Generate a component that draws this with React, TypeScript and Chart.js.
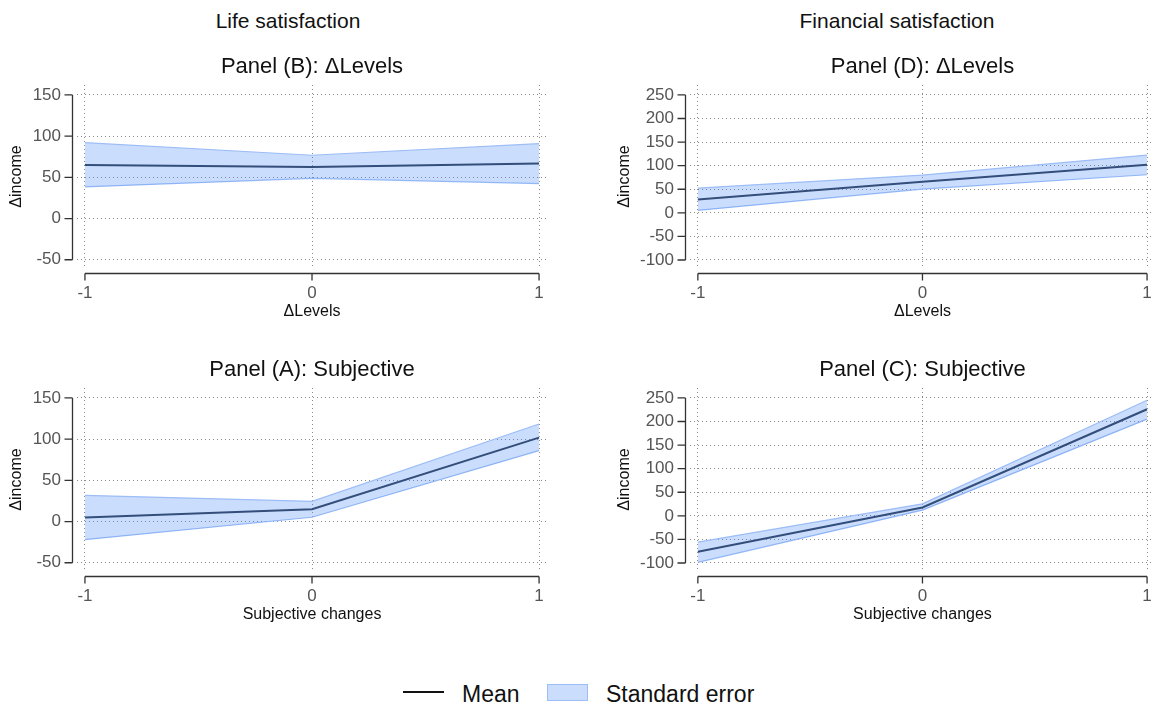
import React, { useEffect, useRef } from 'react';
import { Chart, registerables } from 'chart.js';

Chart.register(...registerables);

// ---------- data ----------
const xValues = [-1, 0, 1];
const xTicks = [-1, 0, 1];
const lifeTicks = [-50, 0, 50, 100, 150];
const finTicks = [-100, -50, 0, 50, 100, 150, 200, 250];

// Panel (B): Life satisfaction, ΔLevels
const lifeLevelsMean = [64.8, 62.4, 66.8];
const lifeLevelsUpper = [92, 76.8, 90.8];
const lifeLevelsLower = [38.4, 48.8, 42.4];

// Panel (A): Life satisfaction, Subjective
const lifeSubjMean = [4.8, 14.9, 101.8];
const lifeSubjUpper = [31.8, 24.5, 118.3];
const lifeSubjLower = [-22, 5.2, 86];

// Panel (D): Financial satisfaction, ΔLevels
const finLevelsMean = [28.3, 65.9, 102];
const finLevelsUpper = [52.4, 80, 122.5];
const finLevelsLower = [5, 50.3, 80.7];

// Panel (C): Financial satisfaction, Subjective
const finSubjMean = [-76, 17.6, 226];
const finSubjUpper = [-55.6, 25.4, 245];
const finSubjLower = [-98.6, 12, 205];

// ---------- style ----------
const FONT = '"Liberation Sans", Arial, Helvetica, sans-serif';
const MEAN_COLOR = '#2f394b';
const BAND_FILL = 'rgba(66,133,244,0.28)';
const BAND_BORDER = '#9dbdf7';
const GRID_COLOR = '#8a8a8a';
const AXIS_COLOR = '#333333';

const stataAxes = {
  id: 'stataAxes',
  afterDraw(chart: any) {
    const { ctx, chartArea, scales } = chart;
    const xs = scales.x;
    const ys = scales.y;
    ctx.save();
    ctx.strokeStyle = AXIS_COLOR;
    ctx.lineWidth = 1.3;
    ctx.setLineDash([]);
    const yt = ys.ticks.map((t: any) => ys.getPixelForValue(t.value));
    const ax = Math.round(chartArea.left - 5) + 0.5;
    ctx.beginPath();
    ctx.moveTo(ax, Math.min(...yt));
    ctx.lineTo(ax, Math.max(...yt));
    yt.forEach((p: number) => {
      ctx.moveTo(ax, p);
      ctx.lineTo(ax - 8, p);
    });
    const xt = xs.ticks.map((t: any) => xs.getPixelForValue(t.value));
    const ay = Math.round(chartArea.bottom + 5) + 0.5;
    ctx.moveTo(Math.min(...xt), ay);
    ctx.lineTo(Math.max(...xt), ay);
    xt.forEach((p: number) => {
      ctx.moveTo(p, ay);
      ctx.lineTo(p, ay + 7);
    });
    ctx.stroke();
    ctx.restore();
  },
};

type PanelProps = {
  title: string;
  xTitle: string;
  mean: number[];
  upper: number[];
  lower: number[];
  yTicks: number[];
  yMin: number;
  yMax: number;
  left: number;
  top: number;
  width: number;
  height: number;
  yAxisWidth: number;
  yTitlePad: number;
  padRight: number;
};

function Panel(p: PanelProps) {
  const ref = useRef<HTMLCanvasElement | null>(null);
  useEffect(() => {
    if (!ref.current) return;
    const pts = (arr: number[]) => xValues.map((x, i) => ({ x, y: arr[i] }));
    const chart = new Chart(ref.current, {
      type: 'line',
      data: {
        datasets: [
          {
            label: 'upper',
            data: pts(p.upper),
            borderColor: BAND_BORDER,
            borderWidth: 1.2,
            backgroundColor: BAND_FILL,
            fill: '+1',
            pointRadius: 0,
            tension: 0,
          },
          {
            label: 'lower',
            data: pts(p.lower),
            borderColor: BAND_BORDER,
            borderWidth: 1.2,
            fill: false,
            pointRadius: 0,
            tension: 0,
          },
          {
            label: 'Mean',
            data: pts(p.mean),
            borderColor: MEAN_COLOR,
            borderWidth: 2,
            fill: false,
            pointRadius: 0,
            tension: 0,
          },
        ],
      },
      options: {
        animation: false,
        responsive: false,
        maintainAspectRatio: false,
        layout: { padding: { left: 0, right: p.padRight, top: 0, bottom: 0 } },
        plugins: {
          legend: { display: false },
          tooltip: { enabled: false },
          title: {
            display: true,
            text: p.title,
            fullSize: false,
            color: '#111111',
            font: { family: FONT, size: 22, weight: 'normal' },
            padding: { top: 3.5, bottom: 5.1 },
          },
        },
        scales: {
          x: {
            type: 'linear',
            min: -1.035,
            max: 1.035,
            afterBuildTicks: (s: any) => {
              s.ticks = xTicks.map((v) => ({ value: v }));
            },
            afterFit: (s: any) => {
              s.height = 60;
            },
            grid: { drawTicks: false, color: GRID_COLOR, lineWidth: 1 },
            border: { display: false, dash: [1, 3] },
            ticks: {
              padding: 15,
              color: '#555555',
              font: { family: FONT, size: 17 },
              callback: (v: any) => String(v),
            },
            title: {
              display: true,
              text: p.xTitle,
              color: '#111111',
              font: { family: FONT, size: 16 },
              padding: { top: 0, bottom: 7 },
            },
          },
          y: {
            type: 'linear',
            min: p.yMin,
            max: p.yMax,
            afterBuildTicks: (s: any) => {
              s.ticks = p.yTicks.map((v) => ({ value: v }));
            },
            afterFit: (s: any) => {
              s.width = p.yAxisWidth;
            },
            grid: { drawTicks: false, color: GRID_COLOR, lineWidth: 1 },
            border: { display: false, dash: [1, 3] },
            ticks: {
              padding: 16,
              color: '#555555',
              font: { family: FONT, size: 17 },
              callback: (v: any) => String(v),
            },
            title: {
              display: true,
              text: 'Δincome',
              color: '#111111',
              font: { family: FONT, size: 16 },
              padding: { top: p.yTitlePad, bottom: 0 },
            },
          },
        },
      } as any,
      plugins: [stataAxes],
    });
    return () => chart.destroy();
  }, []);
  return (
    <canvas
      ref={ref}
      width={p.width}
      height={p.height}
      style={{ position: 'absolute', left: p.left, top: p.top, width: p.width, height: p.height }}
    />
  );
}

const textStyle = (size: number): React.CSSProperties => ({
  position: 'absolute',
  fontFamily: FONT,
  fontSize: size,
  lineHeight: '26px',
  color: '#111111',
  whiteSpace: 'nowrap',
});

export default function App() {
  const rowShift = 303;
  return (
    <div
      style={{
        position: 'fixed',
        left: 0,
        top: 0,
        width: 1154,
        height: 708,
        overflow: 'hidden',
        background: '#ffffff',
      }}
    >
      <div style={{ ...textStyle(21), left: 88, width: 400, textAlign: 'center', top: 8 }}>Life satisfaction</div>
      <div style={{ ...textStyle(21), left: 697, width: 400, textAlign: 'center', top: 8 }}>Financial satisfaction</div>

      <Panel
        title="Panel (B): ΔLevels"
        xTitle="ΔLevels"
        mean={lifeLevelsMean}
        upper={lifeLevelsUpper}
        lower={lifeLevelsLower}
        yTicks={lifeTicks}
        yMin={-60}
        yMax={162}
        left={0}
        top={50}
        width={559}
        height={278}
        yAxisWidth={77}
        yTitlePad={7}
        padRight={10}
      />
      <Panel
        title="Panel (D): ΔLevels"
        xTitle="ΔLevels"
        mean={finLevelsMean}
        upper={finLevelsUpper}
        lower={finLevelsLower}
        yTicks={finTicks}
        yMin={-117}
        yMax={271}
        left={600}
        top={50}
        width={567}
        height={278}
        yAxisWidth={90}
        yTitlePad={15.4}
        padRight={6}
      />
      <Panel
        title="Panel (A): Subjective"
        xTitle="Subjective changes"
        mean={lifeSubjMean}
        upper={lifeSubjUpper}
        lower={lifeSubjLower}
        yTicks={lifeTicks}
        yMin={-60}
        yMax={162}
        left={0}
        top={50 + rowShift}
        width={559}
        height={278}
        yAxisWidth={77}
        yTitlePad={7}
        padRight={10}
      />
      <Panel
        title="Panel (C): Subjective"
        xTitle="Subjective changes"
        mean={finSubjMean}
        upper={finSubjUpper}
        lower={finSubjLower}
        yTicks={finTicks}
        yMin={-117}
        yMax={271}
        left={600}
        top={50 + rowShift}
        width={567}
        height={278}
        yAxisWidth={90}
        yTitlePad={15.4}
        padRight={6}
      />

      <div style={{ position: 'absolute', left: 403, top: 691, width: 41, height: 2, background: '#111111' }} />
      <div style={{ ...textStyle(23), left: 462, top: 680.5 }}>Mean</div>
      <div
        style={{
          position: 'absolute',
          left: 547,
          top: 684,
          width: 39,
          height: 15,
          background: BAND_FILL,
          border: `1px solid ${BAND_BORDER}`,
        }}
      />
      <div style={{ ...textStyle(23), left: 606, top: 680.5 }}>Standard error</div>
    </div>
  );
}
